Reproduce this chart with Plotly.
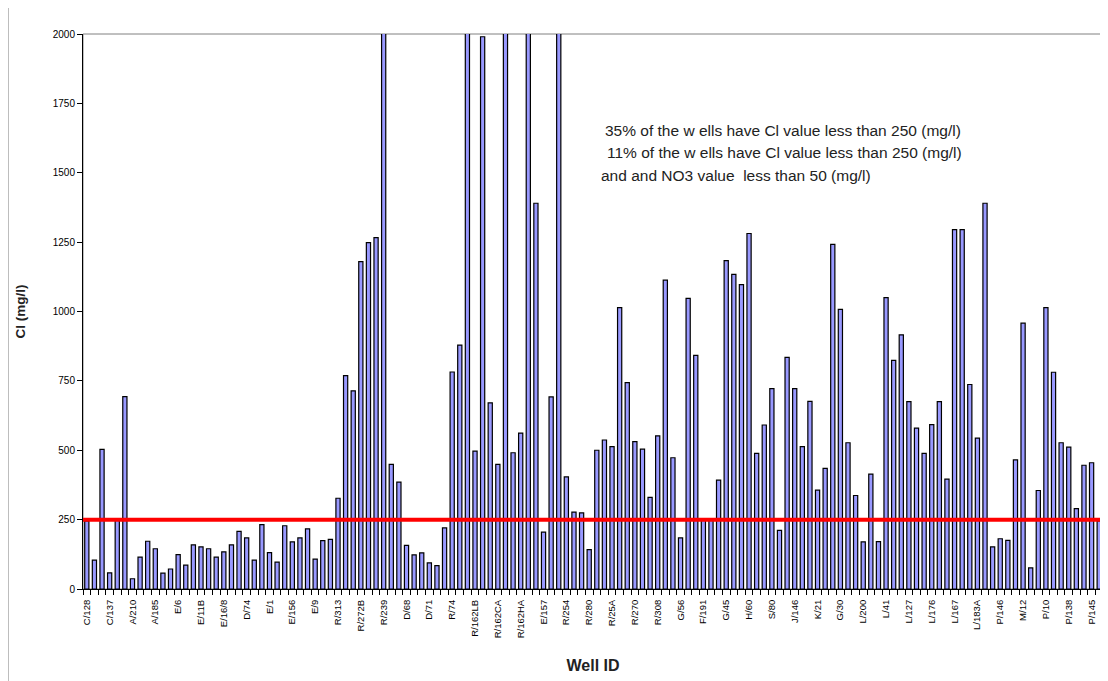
import plotly.graph_objects as go

# Cl concentration (mg/l) for each well, left to right (values above 2000 are clipped in the chart)
cl_values = [
    245, 104, 503, 58, 248, 693, 37, 115, 172, 145,
    57, 72, 124, 86, 159, 152, 145, 115, 134, 159,
    208, 184, 104, 232, 131, 97, 228, 170, 184, 217,
    108, 174, 179, 327, 769, 714, 1180, 1248, 1266, 2100,
    449, 385, 157, 123, 130, 94, 84, 220, 782, 879,
    2100, 497, 1990, 671, 449, 2100, 491, 562, 2100, 1390,
    205, 692, 2100, 404, 277, 274, 142, 500, 537, 513,
    1014, 744, 531, 504, 330, 552, 1113, 473, 184, 1047,
    842, 248, 248, 392, 1183, 1134, 1097, 1281, 489, 591,
    722, 211, 835, 722, 513, 676, 356, 435, 1242, 1008,
    527, 337, 170, 414, 171, 1050, 824, 916, 675, 580,
    489, 592, 675, 396, 1295, 1295, 737, 544, 1390, 152,
    181, 175, 465, 958, 76, 355, 1014, 781, 527, 511,
    290, 446, 455, 245,
]

# Well IDs printed under every third bar
tick_labels = [
    "C/128", "C/137", "A/210", "A/185", "E/6", "E/11B", "E/16/8", "D/74", "E/1",
    "E/156", "E/9", "R/313", "R/272B", "R/239", "D/68", "D/71", "R/74", "R/162LB",
    "R/162CA", "R/162HA", "E/157", "R/254", "R/280", "R/25A", "R/270", "R/308",
    "G/56", "F/191", "G/45", "H/60", "S/80", "J/146", "K/21", "G/30", "L/200",
    "L/41", "L/127", "L/176", "L/167", "L/183A", "P/146", "M/12", "P/10", "P/138",
    "P/145",
]
label_step = 3

threshold = 250
y_ticks = [0, 250, 500, 750, 1000, 1250, 1500, 1750, 2000]

notes = [
    "35% of the w ells have Cl value less than 250 (mg/l)",
    "11% of the w ells have Cl value less than 250 (mg/l)",
    "and and NO3 value  less than 50 (mg/l)",
]

n = len(cl_values)
x_idx = list(range(n))
tick_pos = list(range(0, n, label_step))[: len(tick_labels)]

fig = go.Figure()
fig.add_trace(go.Bar(
    x=x_idx, y=cl_values,
    marker=dict(color="#9999FF", line=dict(color="black", width=1.2)),
    width=0.55,
    hoverinfo="y",
))

fig.add_hline(y=threshold, line=dict(color="#FF0000", width=4))

# plot-area frame (grey top/right)
fig.add_shape(type="rect", xref="paper", yref="paper", x0=0, x1=1, y0=0, y1=1,
              line=dict(color="#808080", width=1), layer="below")
# chart frame on the left edge of the figure
fig.add_shape(type="line", xref="paper", yref="paper", x0=-0.0735, x1=-0.0735,
              y0=-0.17, y1=1.06, line=dict(color="#808080", width=1))

font_main = "Liberation Sans, Arial, sans-serif"
note_y = [0.827, 0.787, 0.745]
note_x = [0.51, 0.512, 0.506]
for t, yy, xx in zip(notes, note_y, note_x):
    fig.add_annotation(text=t, xref="paper", yref="paper", x=xx, y=yy,
                       xanchor="left", yanchor="middle", showarrow=False,
                       font=dict(family=font_main, size=15.5, color="#222222"))

fig.update_layout(
    width=1100, height=673,
    margin=dict(l=75, r=5, t=26, b=92),
    paper_bgcolor="white", plot_bgcolor="white",
    showlegend=False,
    bargap=0.4,
    font=dict(family=font_main, color="black"),
)
fig.update_xaxes(
    range=[-0.5, n - 0.5],
    tickmode="array", tickvals=tick_pos, ticktext=tick_labels,
    tickangle=-90, ticks="outside", ticklen=6, tickcolor="rgba(0,0,0,0)",
    tickfont=dict(size=9.5, color="black"),
    showline=True, linecolor="black", linewidth=1,
    showgrid=False, zeroline=False,
    minor=dict(tickmode="linear", tick0=-0.5, dtick=1, ticks="outside",
               ticklen=5, tickcolor="black", showgrid=False),
    title=dict(text="<b>Well ID</b>", font=dict(size=16, color="#222222"), standoff=22),
    automargin=False,
)
fig.update_yaxes(
    range=[0, 2000], tickmode="array", tickvals=y_ticks,
    ticks="outside", ticklen=5, tickcolor="black",
    tickfont=dict(size=10, color="black"),
    showline=True, linecolor="black", linewidth=1,
    showgrid=False, zeroline=False,
    title=dict(text="<b>Cl (mg/l)</b>", font=dict(size=13.5, color="#222222"), standoff=24),
    automargin=False,
)

fig.write_html("out.html")
